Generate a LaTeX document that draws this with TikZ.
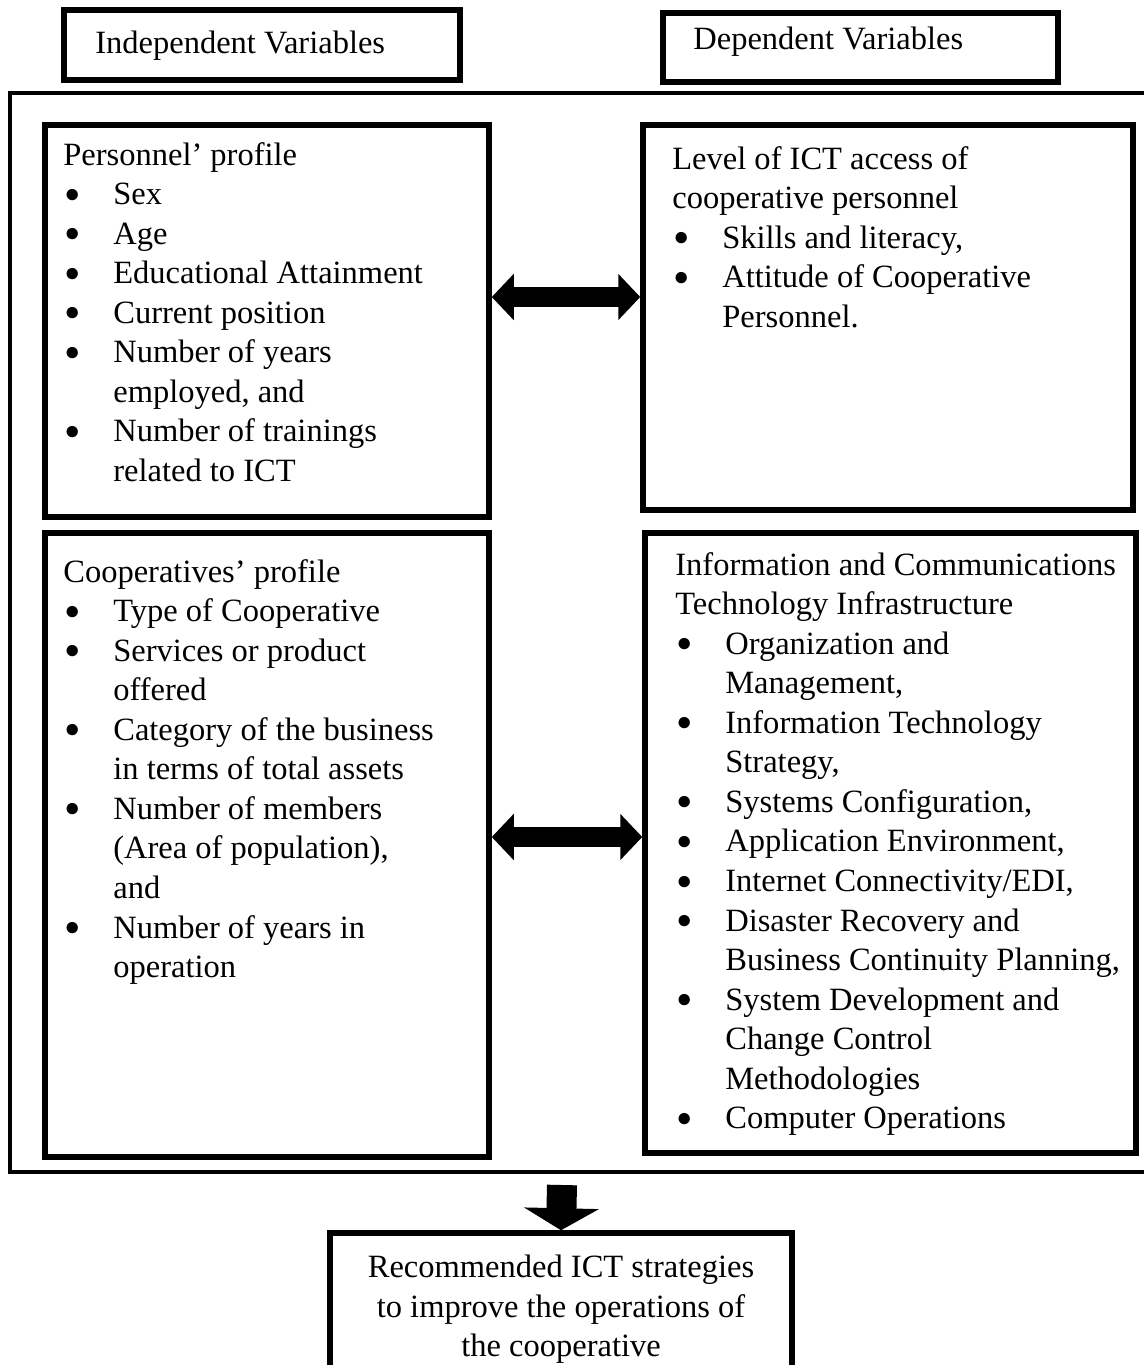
\documentclass[tikz,border=0pt]{standalone}
\usepackage{fontspec}
\setmainfont{Liberation Serif}
\usetikzlibrary{arrows.meta,positioning,fit}
\tikzset{
  var box/.style={draw, line width=0.11cm, inner sep=0pt},
  list text/.style={anchor=north west, inner sep=0pt, align=left,
    font=\fontsize{18.5}{22.5}\selectfont},
  head text/.style={anchor=west, inner sep=0pt,
    font=\fontsize{18.5}{22.5}\selectfont},
  fat arrow/.style={line width=0.4cm,
    {Triangle[width=0.9cm,length=0.44cm]}-{Triangle[width=0.9cm,length=0.44cm]}}
}
\newcommand{\itm}{\makebox[1cm][l]{\hspace{0.02cm}\raisebox{0.05cm}{\fontsize{15}{15}\selectfont ●}}}
\newcommand{\ind}{\hspace*{1cm}}

\begin{document}
\begin{tikzpicture}[x=0.02cm, y=-0.02cm]
   \useasboundingbox (0,0) rectangle (1143,1365);

   \node[var box, fit={(64,10) (460,80)}] (indep) {};
   \node[var box, fit={(663,13) (1058,82)}] (dep) {};
   \node[head text] (indeptxt) at (95,46) {Independent Variables};
   \node[head text] (deptxt) at (693,42) {Dependent Variables};

   \draw[line width=0.08cm] (1170,93) -| (10,1172) -- (1170,1172);

   \node[var box, fit={(45,125) (489,517)}] (pers) {};
   \node[var box, fit={(643,125) (1133,510)}] (lvl) {};
   \node[var box, fit={(45,533) (489,1157)}] (coop) {};
   \node[var box, fit={(645,533) (1136,1153)}] (infra) {};
   \node[var box, fit={(330,1233) (792,1372)}] (rec) {};

   \node[list text] (perstxt) at (63,142) {Personnel’ profile\\
     \itm Sex\\ \itm Age\\ \itm Educational Attainment\\ \itm Current position\\
     \itm Number of years\\ \ind employed, and\\
     \itm Number of trainings\\ \ind related to ICT};
   \node[list text] (lvltxt) at (672,146) {Level of ICT access of\\
     cooperative personnel\\
     \itm Skills and literacy,\\
     \itm Attitude of Cooperative\\ \ind Personnel.};
   \node[list text] (cooptxt) at (63,559) {Cooperatives’ profile\\
     \itm Type of Cooperative\\
     \itm Services or product\\ \ind offered\\
     \itm Category of the business\\ \ind in terms of total assets\\
     \itm Number of members\\ \ind (Area of population),\\ \ind and\\
     \itm Number of years in\\ \ind operation};
   \node[list text] (infratxt) at (675,552) {Information and Communications\\
     Technology Infrastructure\\
     \itm Organization and\\ \ind Management,\\
     \itm Information Technology\\ \ind Strategy,\\
     \itm Systems Configuration,\\
     \itm Application Environment,\\
     \itm Internet Connectivity/EDI,\\
     \itm Disaster Recovery and\\ \ind Business Continuity Planning,\\
     \itm System Development and\\ \ind Change Control\\ \ind Methodologies\\
     \itm Computer Operations};
   \node[list text, anchor=north, align=center] (rectxt) at (561,1255)
     {Recommended ICT strategies\\ to improve the operations of\\ the cooperative};

   \coordinate (a1) at (0,297);
   \coordinate (a2) at (0,837);
   \coordinate (d0) at (562,1185);
   \draw[fat arrow] (pers.east |- a1) -- (lvl.west |- a1);
   \draw[fat arrow] (coop.east |- a2) -- (infra.west |- a2);
   \draw[line width=0.6cm, -{Triangle[width=1.48cm,length=0.44cm]}] (d0) -- (rec.north);
\end{tikzpicture}
\end{document}
